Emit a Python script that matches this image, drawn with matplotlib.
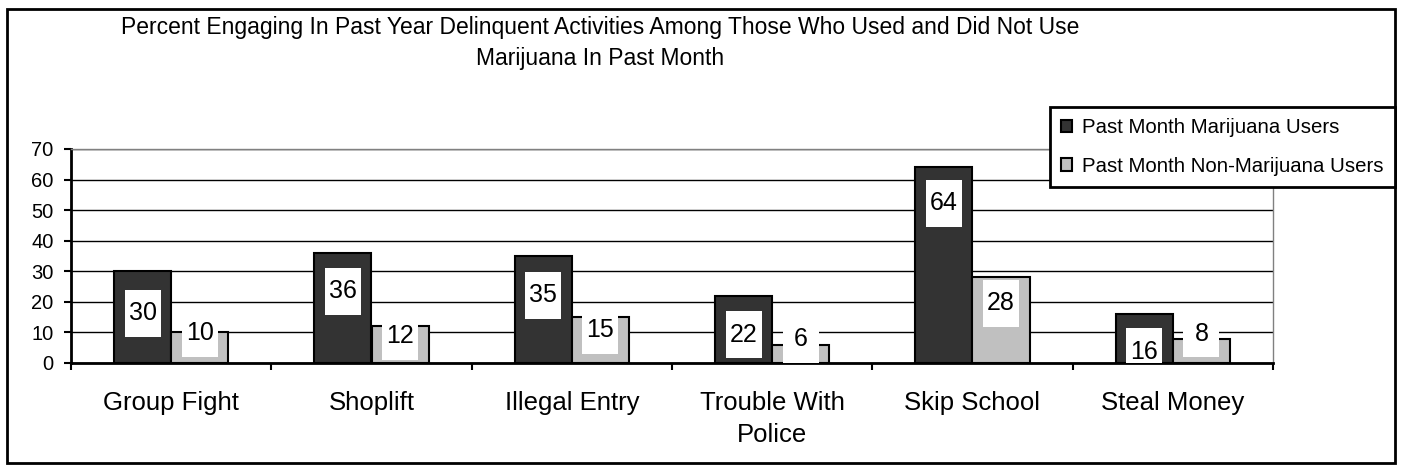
import matplotlib
matplotlib.use("Agg")
import matplotlib.pyplot as plt
import numpy as np
from matplotlib.patches import Rectangle, Patch

# data
categories = ["Group Fight", "Shoplift", "Illegal Entry", "Trouble With\nPolice",
              "Skip School", "Steal Money"]
users = [30, 36, 35, 22, 64, 16]
non_users = [10, 12, 15, 6, 28, 8]
series_names = ["Past Month Marijuana Users", "Past Month Non-Marijuana Users"]

# where the value boxes sit (data units), as placed in the original
users_label_y = [16.3, 23.5, 22.2, 9.3, 52.3, 3.6]
non_users_label_y = [9.8, 8.7, 10.7, 7.8, 19.6, 9.5]

title = ("Percent Engaging In Past Year Delinquent Activities Among Those Who Used and Did Not Use\n"
         "Marijuana In Past Month")

plt.rcParams["font.family"] = ["Liberation Sans", "DejaVu Sans"]

W, H = 1401, 471
fig = plt.figure(figsize=(W / 100, H / 100), dpi=100)
ax = fig.add_axes([71 / W, 1 - 363 / H, (1273 - 71) / W, (363 - 149) / H])

dark, light = "#333333", "#c0c0c0"
bw = 0.285
x = np.arange(len(categories))

ax.bar(x - bw / 2, users, bw, color=dark, edgecolor="black", linewidth=1.5, zorder=2)
ax.bar(x + bw / 2, non_users, bw, color=light, edgecolor="black", linewidth=1.5, zorder=2)

# white value boxes
box_w, box_h = 0.18, 15.4
for xs, vals, ys in [(x - bw / 2, users, users_label_y), (x + bw / 2, non_users, non_users_label_y)]:
    for xi, v, yi in zip(xs, vals, ys):
        ax.add_patch(Rectangle((xi - box_w / 2, yi - box_h / 2), box_w, box_h,
                               facecolor="white", edgecolor="none", zorder=3))
        ax.text(xi, yi, str(v), ha="center", va="center", fontsize=18, zorder=4)

ax.set_xlim(-0.5, len(categories) - 0.5)
ax.set_ylim(0, 70)
ax.set_yticks(range(0, 71, 10))
ax.tick_params(axis="y", labelsize=14.5, length=5, width=1.5, pad=7.5)
ax.set_xticks(np.arange(-0.5, len(categories), 1))
ax.set_xticklabels([])
ax.set_xticks(x, minor=True)
ax.set_xticklabels(categories, minor=True, fontsize=18.5, linespacing=1.45)
ax.tick_params(axis="x", which="major", length=5, width=1.5)
ax.tick_params(axis="x", which="minor", length=0, pad=20)

ax.yaxis.grid(True, color="black", linewidth=1, zorder=0)
ax.set_axisbelow(True)
for s in ["left", "bottom"]:
    ax.spines[s].set_linewidth(2)
for s in ["top", "right"]:
    ax.spines[s].set_color("#808080")
    ax.spines[s].set_linewidth(1)

fig.text(600 / W, 1 - 43 / H, title, ha="center", va="center", fontsize=16.5, linespacing=1.4)

handles = [Patch(facecolor=dark, edgecolor="black", linewidth=1.5),
           Patch(facecolor=light, edgecolor="black", linewidth=1.5)]
leg = fig.legend(handles, series_names, loc="upper right",
                 bbox_to_anchor=(1395 / W, 1 - 107 / H), fontsize=14.7,
                 frameon=True, fancybox=False, framealpha=1, edgecolor="black",
                 handlelength=0.55, handleheight=0.55, handletextpad=0.5,
                 borderpad=0.55, labelspacing=0.95, borderaxespad=0)
leg.get_frame().set_linewidth(2)

fig.patches.append(Rectangle((7 / W, 1 - 463 / H), (1395 - 7) / W, (463 - 9) / H,
                             transform=fig.transFigure, fill=False,
                             edgecolor="black", linewidth=2))

fig.savefig("out.png", dpi=100)
